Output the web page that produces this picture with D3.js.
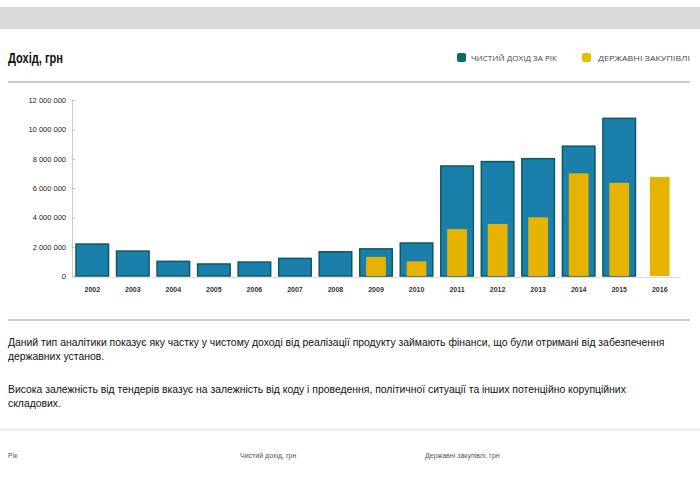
<!DOCTYPE html>
<html><head><meta charset="utf-8">
<script src="https://cdnjs.cloudflare.com/ajax/libs/d3/7.8.5/d3.min.js"></script>
<style>body{margin:0;background:#fff;}svg{display:block;}</style>
</head><body>
<script>
const years = ["2002","2003","2004","2005","2006","2007","2008","2009","2010","2011","2012","2013","2014","2015","2016"];
const netIncome = [2180000,1700000,1000000,820000,950000,1200000,1650000,1850000,2250000,7500000,7800000,8000000,8850000,10750000,null];
const procurement = [null,null,null,null,null,null,null,1300000,1000000,3200000,3550000,4000000,7000000,6350000,6750000];
const yTicks = [0,2000000,4000000,6000000,8000000,10000000,12000000];
const title = "Дохід, грн";
const legendLabels = ["ЧИСТИЙ ДОХІД ЗА РІК","ДЕРЖАВНІ ЗАКУПІВЛІ"];
const paragraphs = [
  ["Даний тип аналітики показує яку частку у чистому доході від реалізації продукту займають фінанси, що були отримані від забезпечення","державних установ."],
  ["Висока залежність від тендерів вказує на залежність від коду і проведення, політичної ситуації та інших потенційно корупційних","складових."]
];
const tableHeaders = ["Рік","Чистий дохід, грн","Державні закупівлі, грн"];

const W=700,H=478;
const svg=d3.select("body").append("svg").attr("width",W).attr("height",H);
const teal="#1b7fab", tealStroke="#0d5a5e", gold="#e6b400";

// top gray band
svg.append("rect").attr("x",0).attr("y",7).attr("width",W).attr("height",22).attr("fill","#d9d9d9");

// title
svg.append("text").attr("x",8).attr("y",63).text(title)
  .attr("font-family","'Liberation Sans',sans-serif")
  .attr("font-weight","bold").attr("font-size",15).attr("fill","#111")
  .attr("textLength",55).attr("lengthAdjust","spacingAndGlyphs");

// legend
const leg=[{x:457,c:"#0e6a6a",t:legendLabels[0],tx:471,w:86},{x:582,c:"#e0c000",t:legendLabels[1],tx:598,w:92}];
leg.forEach(l=>{
  svg.append("rect").attr("x",l.x).attr("y",53).attr("width",9).attr("height",9).attr("rx",2).attr("fill",l.c);
  svg.append("text").attr("x",l.tx).attr("y",60.5).text(l.t).attr("font-family","'Open Sans',sans-serif")
    .attr("font-size",6.5).attr("fill","#444").attr("textLength",l.w).attr("lengthAdjust","spacingAndGlyphs");
});

// separators
svg.append("line").attr("x1",8).attr("x2",690).attr("y1",82).attr("y2",82).attr("stroke","#b8b8b8").attr("stroke-width",1.5);
svg.append("line").attr("x1",8).attr("x2",690).attr("y1",320).attr("y2",320).attr("stroke","#b8b8b8").attr("stroke-width",1.5);
svg.append("rect").attr("x",0).attr("y",428).attr("width",W).attr("height",3).attr("fill","#f0f0f0");

// scales
const x=d3.scaleBand().domain(years).range([72,680]).paddingInner(0.16).paddingOuter(0.08);
const y=d3.scaleLinear().domain([0,12000000]).range([276,100]);
const fmt=v=>d3.format(",")(v).replace(/,/g," ");

// y axis
const ya=svg.append("g").attr("transform","translate(72,0)")
  .call(d3.axisLeft(y).tickValues(yTicks).tickFormat(fmt).tickSize(-3).tickPadding(6));
ya.select(".domain").attr("stroke","#ccc");
ya.selectAll(".tick line").attr("stroke","#bbb");
ya.selectAll("text").attr("font-family","'Liberation Sans',sans-serif").attr("font-size",7.5).attr("fill","#222");

// x axis
const xa=svg.append("g").attr("transform","translate(0,277)")
  .call(d3.axisBottom(x).tickSize(0).tickPadding(10));
xa.select(".domain").attr("stroke","#ddd");
xa.selectAll("text").attr("font-family","'Liberation Sans',sans-serif").attr("font-size",7).attr("font-weight","bold").attr("fill","#333");

// bars
const bw=x.bandwidth();
svg.append("g").selectAll("rect").data(years.map((yr,i)=>({yr,v:netIncome[i]})).filter(d=>d.v!=null))
  .join("rect").attr("x",d=>x(d.yr)+0.75).attr("width",bw-1.5)
  .attr("y",d=>y(d.v)).attr("height",d=>y(0)-y(d.v))
  .attr("fill",teal).attr("stroke",tealStroke).attr("stroke-width",1.5);
const gw=bw*0.58;
svg.append("g").selectAll("rect").data(years.map((yr,i)=>({yr,v:procurement[i]})).filter(d=>d.v!=null))
  .join("rect").attr("x",d=>x(d.yr)+(bw-gw)/2).attr("width",gw)
  .attr("y",d=>y(d.v)).attr("height",d=>y(0)-y(d.v))
  .attr("fill",gold);

// paragraphs
const py=[346,393];
paragraphs.forEach((p,pi)=>{
  p.forEach((line,li)=>{
    svg.append("text").attr("x",8).attr("y",py[pi]+li*14).text(line)
      .attr("font-family","'Liberation Sans',sans-serif").attr("font-size",10.4).attr("fill","#111");
  });
});

// table headers
const hx=[8,240,425];
tableHeaders.forEach((t,i)=>{
  svg.append("text").attr("x",hx[i]).attr("y",458).text(t)
    .attr("font-family","'Liberation Sans',sans-serif").attr("font-size",7).attr("fill","#555");
});
</script>
</body></html>
